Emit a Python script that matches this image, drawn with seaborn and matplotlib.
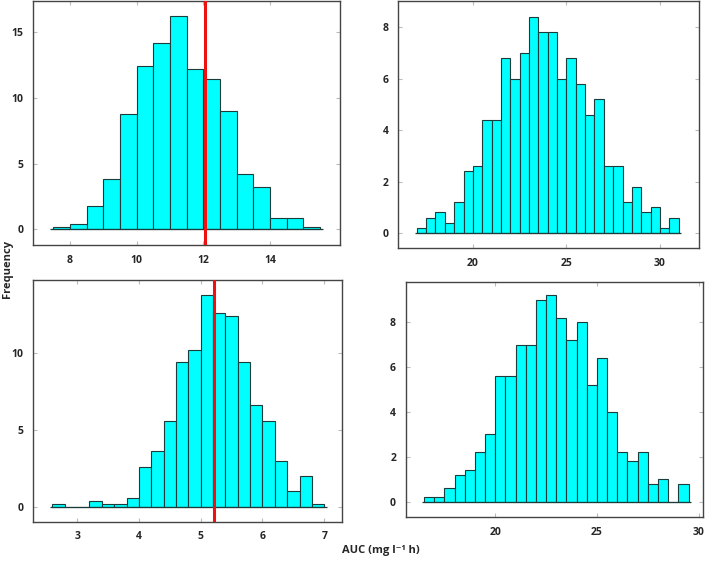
import numpy as np
import pandas as pd
import seaborn as sns
import matplotlib.pyplot as plt

sns.set_style("ticks")
plt.rcParams["font.family"] = ["Open Sans", "DejaVu Sans"]
plt.rcParams["font.weight"] = "bold"

# panel A (top left): bins of 0.5 from 7.5
a_start, a_width = 7.5, 0.5
a_freq = [0.2, 0.4, 1.8, 3.8, 8.8, 12.4, 14.2, 16.2, 12.2, 11.4, 9.0, 4.2, 3.2, 0.9, 0.9, 0.2]
a_line = 12.05

# panel B (top right): bins of 0.5 from 17
b_start, b_width = 17.0, 0.5
b_freq = [0.2, 0.6, 0.8, 0.4, 1.2, 2.4, 2.6, 4.4, 4.4, 6.8, 6.0, 7.0, 8.4, 7.8,
          7.8, 6.0, 6.8, 5.8, 4.6, 5.2, 2.6, 2.6, 1.2, 1.8, 0.8, 1.0, 0.2, 0.6]

# panel C (bottom left): bins of 0.2 from 2.6
c_start, c_width = 2.6, 0.2
c_freq = [0.2, 0.0, 0.0, 0.4, 0.2, 0.2, 0.6, 2.6, 3.6, 5.6, 9.4, 10.2, 13.8, 12.6,
          12.4, 9.4, 6.6, 5.6, 3.0, 1.0, 2.0, 0.2]
c_line = 5.22

# panel D (bottom right): bins of 0.5 from 16.5
d_start, d_width = 16.5, 0.5
d_freq = [0.2, 0.2, 0.6, 1.2, 1.4, 2.2, 3.0, 5.6, 5.6, 7.0, 7.0, 9.0, 9.2, 8.2,
          7.2, 8.0, 5.2, 6.4, 4.0, 2.2, 1.8, 2.2, 0.8, 1.0, 0.0, 0.8]

panels = [
    dict(start=a_start, width=a_width, freq=a_freq, line=a_line,
         pos=[0.047, 0.563, 0.434, 0.436], xlim=(6.9, 16.1), ylim=(-1.2, 17.4),
         xticks=[8, 10, 12, 14], yticks=[0, 5, 10, 15]),
    dict(start=b_start, width=b_width, freq=b_freq, line=None,
         pos=[0.563, 0.558, 0.426, 0.441], xlim=(16.0, 32.1), ylim=(-0.58, 9.03),
         xticks=[20, 25, 30], yticks=[0, 2, 4, 6, 8]),
    dict(start=c_start, width=c_width, freq=c_freq, line=c_line,
         pos=[0.047, 0.070, 0.437, 0.431], xlim=(2.29, 7.29), ylim=(-0.97, 14.76),
         xticks=[3, 4, 5, 6, 7], yticks=[0, 5, 10]),
    dict(start=d_start, width=d_width, freq=d_freq, line=None,
         pos=[0.574, 0.078, 0.420, 0.419], xlim=(15.6, 30.2), ylim=(-0.70, 9.79),
         xticks=[20, 25, 30], yticks=[0, 2, 4, 6, 8]),
]

fig = plt.figure(figsize=(7.07, 5.61), dpi=100)

for p in panels:
    ax = fig.add_axes(p["pos"])
    n = len(p["freq"])
    lo = p["start"]
    hi = p["start"] + p["width"] * n
    centers = lo + p["width"] * (np.arange(n) + 0.5)
    df = pd.DataFrame({"auc": centers, "freq": p["freq"]})
    sns.histplot(data=df, x="auc", weights="freq", binwidth=p["width"],
                 binrange=(lo, hi - p["width"] / 1000), ax=ax,
                 color="#00ffff", alpha=1, edgecolor="#1c3c3c", linewidth=0.8)
    ax.hlines(0, lo - p["width"] / 5, hi + p["width"] / 5,
              color="#1c3c3c", linewidth=0.9, zorder=3)
    if p["line"] is not None:
        ax.axvline(p["line"], color="#ee1111", linewidth=2.2, zorder=4)
    ax.set_xlim(p["xlim"])
    ax.set_ylim(p["ylim"])
    ax.set_xticks(p["xticks"])
    ax.set_yticks(p["yticks"])
    ax.set_xlabel("")
    ax.set_ylabel("")
    ax.tick_params(direction="in", length=3, width=0.8, color="#bbbbbb",
                   top=True, right=True, labelsize=7.5, pad=7)
    for lab in ax.get_xticklabels() + ax.get_yticklabels():
        lab.set_fontweight("bold")
    for s in ax.spines.values():
        s.set_color("#444444")
        s.set_linewidth(1.0)

fig.text(0.011, 0.52, "Frequency", rotation=90, ha="center", va="center",
         fontsize=8, fontweight="bold")
fig.text(0.539, 0.018, "AUC (mg l\u207b\u00b9 h)", ha="center", va="center",
         fontsize=8, fontweight="bold")

fig.savefig("out.png", dpi=100)
